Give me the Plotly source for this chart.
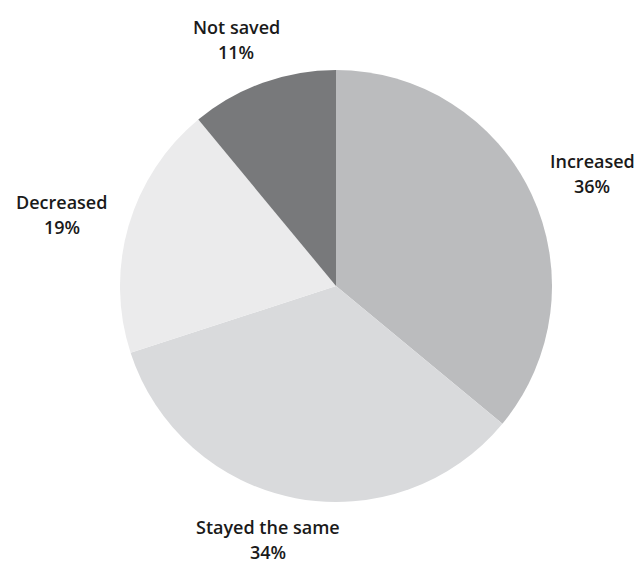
import plotly.graph_objects as go

# Share of respondents by change in savings
categories = ["Increased", "Stayed the same", "Decreased", "Not saved"]
shares = [36, 34, 19, 11]
slice_colors = ["#bbbcbe", "#d9dadc", "#ebebec", "#78797b"]

# Centre of the first label line in pixels (x, y from top) for each category
label_pos = [(592, 161), (268, 527), (62, 202), (236, 27)]
LINE_GAP = 25

W, H = 638, 565

fig = go.Figure(
    go.Pie(
        labels=categories,
        values=shares,
        sort=False,
        direction="clockwise",
        rotation=0,
        marker=dict(colors=slice_colors, line=dict(width=0)),
        textinfo="none",
        hoverinfo="label+percent",
        domain=dict(x=[120 / W, 552 / W], y=[63 / H, 495 / H]),
        showlegend=False,
    )
)

label_font = dict(family="Open Sans", size=18, color="#1a1a1a", weight=600)

for cat, val, (px, py) in zip(categories, shares, label_pos):
    for i, line in enumerate([cat, f"{val}%"]):
        fig.add_annotation(
            x=px / W,
            y=1 - (py + i * LINE_GAP) / H,
            xref="paper",
            yref="paper",
            xanchor="center",
            yanchor="middle",
            text=line,
            showarrow=False,
            borderpad=0,
            font=label_font,
        )

fig.update_layout(
    width=W,
    height=H,
    margin=dict(l=0, r=0, t=0, b=0),
    paper_bgcolor="white",
    plot_bgcolor="white",
)

fig.write_html("out.html")
